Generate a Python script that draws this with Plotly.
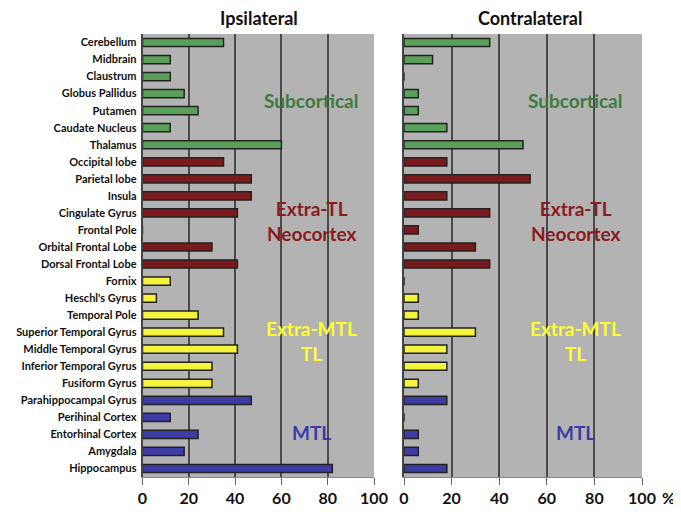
import plotly.graph_objects as go

regions = ["Cerebellum", "Midbrain", "Claustrum", "Globus Pallidus", "Putamen",
           "Caudate Nucleus", "Thalamus", "Occipital lobe", "Parietal lobe", "Insula",
           "Cingulate Gyrus", "Frontal Pole", "Orbital Frontal Lobe", "Dorsal Frontal Lobe",
           "Fornix", "Heschl's Gyrus", "Temporal Pole", "Superior Temporal Gyrus",
           "Middle Temporal Gyrus", "Inferior Temporal Gyrus", "Fusiform Gyrus",
           "Parahippocampal Gyrus", "Perihinal Cortex", "Entorhinal Cortex", "Amygdala",
           "Hippocampus"]
groups = (["Subcortical"] * 7 + ["Extra-TL Neocortex"] * 7 +
          ["Extra-MTL TL"] * 7 + ["MTL"] * 5)
ipsilateral = [35, 12, 12, 18, 24, 12, 60, 35, 47, 47, 41, 0, 30, 41,
               12, 6, 24, 35, 41, 30, 30, 47, 12, 24, 18, 82]
contralateral = [36, 12, 0, 6, 6, 18, 50, 18, 53, 18, 36, 6, 30, 36,
                 0, 6, 6, 30, 18, 18, 6, 18, 0, 6, 6, 18]
x_ticks = [0, 20, 40, 60, 80, 100]

bar_colors = {"Subcortical": "#5aa05a", "Extra-TL Neocortex": "#7a1a1e",
              "Extra-MTL TL": "#f4f43c", "MTL": "#3c3ca4"}
text_colors = {"Subcortical": "#3e7a3e", "Extra-TL Neocortex": "#8a1a1e",
               "Extra-MTL TL": "#ffff30", "MTL": "#3a3aaa"}
colors = [bar_colors[g] for g in groups]

OFF = 8  # page body margin
W, H = 681 - OFF, 514 - OFF
def px(x): return (x - OFF) / W
def py(y): return 1 - (y - OFF) / H

fig = go.Figure()
fig.add_trace(go.Bar(y=regions, x=ipsilateral, orientation="h", xaxis="x", yaxis="y",
                     marker=dict(color=colors, line=dict(color="#222222", width=1.5)),
                     width=0.48, showlegend=False))
fig.add_trace(go.Bar(y=regions, x=contralateral, orientation="h", xaxis="x2", yaxis="y2",
                     marker=dict(color=colors, line=dict(color="#222222", width=1.5)),
                     width=0.48, showlegend=False))

xcommon = dict(range=[0, 100], tickvals=x_ticks, ticktext=[str(t) for t in x_ticks],
               showgrid=True, gridcolor="#4a4a4a", gridwidth=1.5,
               ticks="outside", ticklen=7, tickcolor="#666666",
               showline=True, linecolor="#888888", linewidth=1,
               tickfont=dict(family="Lato", size=16, color="#111111", weight="bold"),
               zeroline=False, fixedrange=True, automargin=False)
ycommon = dict(categoryorder="array", categoryarray=regions, autorange="reversed",
               showline=True, linecolor="#444444", linewidth=1.5, ticks="",
               showgrid=False, fixedrange=True, automargin=False)

fig.update_layout(
    width=W, height=H,
    margin=dict(l=0, r=0, t=0, b=0),
    paper_bgcolor="white", plot_bgcolor="#b3b3b3",
    xaxis=dict(domain=[px(142.5), px(374)], anchor="y", **xcommon),
    xaxis2=dict(domain=[px(404), px(642)], anchor="y2", **xcommon),
    yaxis=dict(domain=[py(477), py(34)], anchor="x",
               tickfont=dict(family="Lato", size=11, color="#111111", weight="bold"),
               ticklabelstandoff=2, **ycommon),
    yaxis2=dict(domain=[py(477), py(34)], anchor="x2", showticklabels=False, **ycommon),
)

annots = [
    dict(text="<b>Ipsilateral</b>", x=px(259), y=py(18.5), size=18, color="#111111"),
    dict(text="<b>Contralateral</b>", x=px(530), y=py(18.5), size=18, color="#111111"),
    dict(text="<b>%</b>", x=px(668), y=py(497), size=16, color="#111111"),
]
group_pos = [("Subcortical", "Subcortical", 100),
             ("Extra-TL Neocortex", "Extra-TL<br>Neocortex", 221),
             ("Extra-MTL TL", "Extra-MTL<br>TL", 341),
             ("MTL", "MTL", 432)]
for cx in (px(311), px(575)):
    for g, label, yy in group_pos:
        annots.append(dict(text="<b>" + label + "</b>", x=cx, y=py(yy), size=19,
                           color=text_colors[g]))

for a in annots:
    fig.add_annotation(text=a["text"], x=a["x"], y=a["y"], xref="paper", yref="paper",
                       xanchor="center", yanchor="middle", showarrow=False,
                       font=dict(family="Lato", size=a["size"], color=a["color"]))

fig.write_html("out.html")
